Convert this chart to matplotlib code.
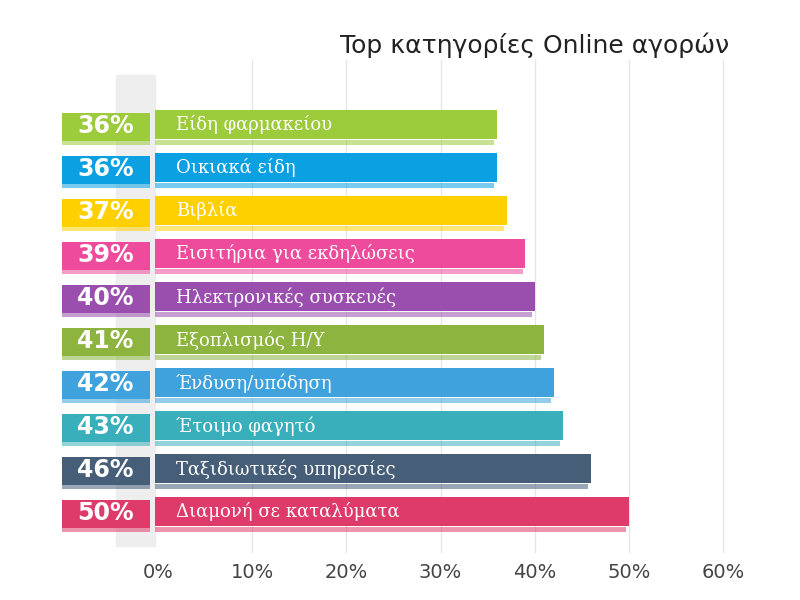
import matplotlib
matplotlib.use("Agg")
import matplotlib.pyplot as plt
import matplotlib.colors as mc

categories = ["Είδη φαρμακείου", "Οικιακά είδη", "Βιβλία", "Εισιτήρια για εκδηλώσεις",
              "Ηλεκτρονικές συσκευές", "Εξοπλισμός Η/Υ", "Ένδυση/υπόδηση",
              "Έτοιμο φαγητό", "Ταξιδιωτικές υπηρεσίες", "Διαμονή σε καταλύματα"]
values = [36, 36, 37, 39, 40, 41, 42, 43, 46, 50]
colors = ["#9CCB3B", "#0AA0E2", "#FFD000", "#EE4B9C", "#9A4FAE", "#8CB43E",
          "#3FA2DC", "#3AAFBC", "#465E78", "#DE3B6B"]
ticks = [0, 10, 20, 30, 40, 50, 60]
tick_labels = ["0%", "10%", "20%", "30%", "40%", "50%", "60%"]

plt.rcParams['font.family'] = ['DejaVu Sans']
fig = plt.figure(figsize=(8, 6), dpi=100)
ax = fig.add_axes([0, 0, 1, 1])
ax.set_xlim(-158/9.42, (800-158)/9.42)
ax.set_ylim((600-127)/43, -127/43)
ax.axis('off')

for t, lab in zip(ticks, tick_labels):
    if t > 0:
        ax.axvline(t, color="#E6E6E6", lw=1, zorder=0, ymin=0.08, ymax=0.9)
    ax.text(t, (572-127)/43, lab, ha='center', va='center', fontsize=14, color="#444444")

# grey post
ax.fill_between([-4.5, -0.3], -1.2, 9.75, color="#EEEEEE", zorder=0.5)

h = 34/43
for i, (c, v, col) in enumerate(zip(categories, values, colors)):
    light = mc.to_rgba(col, 0.55)
    ax.barh(i + h/2 - 0.04, v, left=-0.3, height=0.12, color=light, zorder=1)
    ax.barh(i - 0.05, v + 0.3, left=-0.3, height=h*0.85, color=col, zorder=2)
    ax.barh(i, 9.3, left=-10.2, height=h*0.85, color=col, zorder=2)
    ax.barh(i + h/2 - 0.04, 9.3, left=-10.2, height=0.12, color=light, zorder=1)
    ax.text(-5.6, i - 0.02, f"{v}%", ha='center', va='center', fontsize=17,
            fontweight='bold', color='white', zorder=3)
    ax.text(1.9, i - 0.05, c, ha='left', va='center', fontsize=13, color='white',
            family=['DejaVu Serif'], zorder=3)

ax.text(535/9.42 - 158/9.42, (45-127)/43, "Top κατηγορίες Online αγορών", ha='center',
        va='center', fontsize=18, color="#222222")
fig.savefig("out.png", dpi=100)
